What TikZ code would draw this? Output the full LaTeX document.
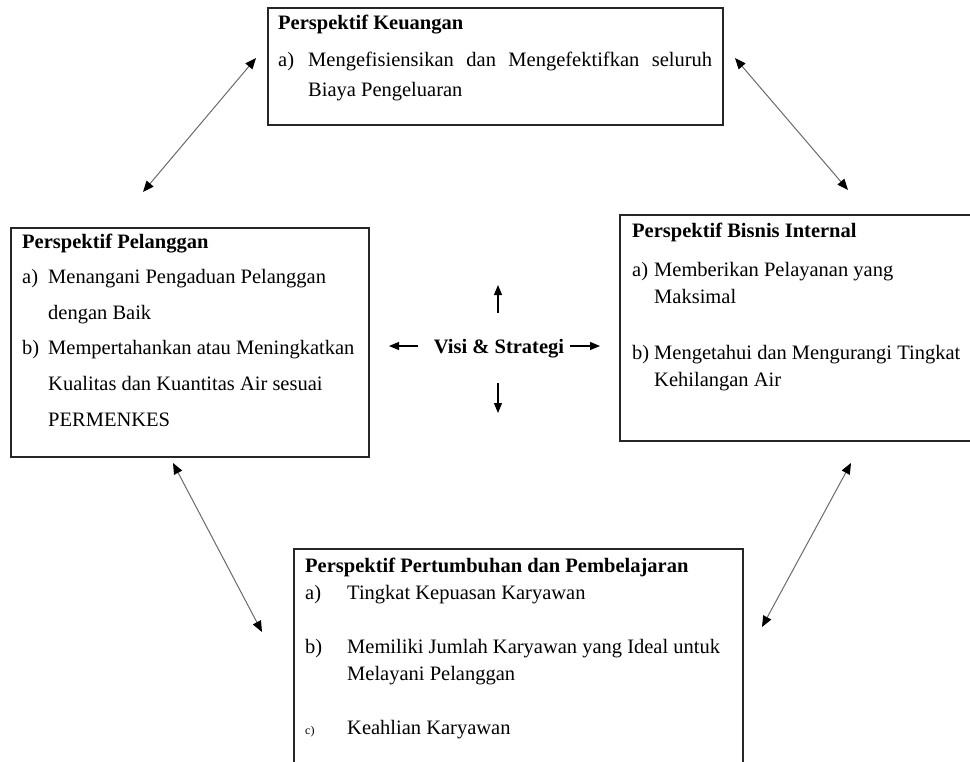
\documentclass[tikz,border=0pt]{standalone}
\usepackage{fontspec}
\setmainfont{Liberation Serif}
\usepackage{xcolor}
\definecolor{garisKotak}{HTML}{262626}
\definecolor{garisPanah}{HTML}{6A6A6A}
\usepackage{tikz}
\usetikzlibrary{arrows.meta, positioning}
\newcommand{\butir}[2]{\makebox[#1][l]{#2}}
\tikzset{
  %% ── Kotak ────────────────────────────────────────────────────────────
  %% The frame and its text are two nodes: the frame has a fixed size,
  %% the text sits on the baseline of its last line.
  kotak/.style      = {draw=garisKotak, line width=1.2pt, rectangle,
                       inner sep=0pt, outer sep=0pt, anchor=north west},
  isiKotak/.style   = {anchor=base west, align=left, inner sep=0pt,
                       font=\fontsize{20.5}{27}\selectfont},
  %%
  %% ── Panah ────────────────────────────────────────────────────────────
  panahGanda/.style = {{Triangle[length=11pt, width=9pt, black]}-{Triangle[length=11pt, width=9pt, black]},
                       draw=garisPanah, line width=1pt},
  panahPusat/.style = {-{Triangle[length=10pt, width=8pt]}, draw=black,
                       line width=1.1pt},
}

\begin{document}
\begin{tikzpicture}[x=1pt, y=-1pt]
\useasboundingbox (0,0) rectangle (970,761);

\node[kotak, minimum width=455, minimum height=117] (keuangan) at (268,8) {};
\node[isiKotak, font=\fontsize{20.5}{30}\selectfont] (isiKeuangan) at (278,96)
     {\textbf{Perspektif Keuangan}\\[7pt]
      \butir{30pt}{a)}\makebox[404pt][s]{Mengefisiensikan dan Mengefektifkan seluruh}\\
      \hspace*{30pt}Biaya Pengeluaran};

\node[kotak, minimum width=358, minimum height=229] (pelanggan) at (11,228) {};
\node[isiKotak, font=\fontsize{20.5}{35.6}\selectfont] (isiPelanggan) at (22,426)
     {\textbf{Perspektif Pelanggan}\\
      \butir{26pt}{a)}Menangani Pengaduan Pelanggan\\
      \hspace*{26pt}dengan Baik\\
      \butir{26pt}{b)}Mempertahankan atau Meningkatkan\\
      \hspace*{26pt}Kualitas dan Kuantitas Air sesuai\\
      \hspace*{26pt}PERMENKES};

\node[kotak, minimum width=370, minimum height=226] (bisnis) at (620,215) {};
\node[isiKotak] (isiBisnis) at (632,386)
     {\textbf{Perspektif Bisnis Internal}\\[12pt]
      \butir{22pt}{a)}Memberikan Pelayanan yang\\
      \hspace*{22pt}Maksimal\\[29pt]
      \butir{22pt}{b)}Mengetahui dan Mengurangi Tingkat\\
      \hspace*{22pt}Kehilangan Air};

\node[kotak, minimum width=449, minimum height=240] (pertumbuhan) at (294,549) {};
\node[isiKotak] (isiPertumbuhan) at (305,734)
     {\textbf{Perspektif Pertumbuhan dan Pembelajaran}\\
      \butir{42pt}{a)}Tingkat Kepuasan Karyawan\\[27pt]
      \butir{42pt}{b)}Memiliki Jumlah Karyawan yang Ideal untuk\\
      \hspace*{42pt}Melayani Pelanggan\\[27pt]
      \butir{42pt}{\fontsize{12}{12}\selectfont c)}Keahlian Karyawan};

%% centre
\node[anchor=base, inner sep=0pt, font=\fontsize{20.5}{27}\selectfont\bfseries] (visi) at (499,353)
     {Visi \& Strategi};
\coordinate (visiAtas)  at (498,285);
\coordinate (visiBawah) at (498,413);
\coordinate (visiKiri)  at (389,346);
\coordinate (visiKanan) at (600,346);
\draw[panahPusat] (visiAtas |- 0,313) -- (visiAtas);
\draw[panahPusat] (visiBawah |- 0,383) -- (visiBawah);
\draw[panahPusat] (418,346) -- (visiKiri);
\draw[panahPusat] (570,346) -- (visiKanan);

%% links between the perspectives
\coordinate (kiriAtasA)  at (143,192);
\coordinate (kiriAtasB)  at (256,58);
\coordinate (kananAtasA) at (735,58);
\coordinate (kananAtasB) at (848,190);
\coordinate (kiriBawahA) at (173,463);
\coordinate (kiriBawahB) at (262,632);
\coordinate (kananBawahA) at (851,463);
\coordinate (kananBawahB) at (762,627);
\draw[panahGanda] (kiriAtasA) -- (kiriAtasB);
\draw[panahGanda] (kananAtasA) -- (kananAtasB);
\draw[panahGanda] (kiriBawahA) -- (kiriBawahB);
\draw[panahGanda] (kananBawahA) -- (kananBawahB);

\end{tikzpicture}
\end{document}
